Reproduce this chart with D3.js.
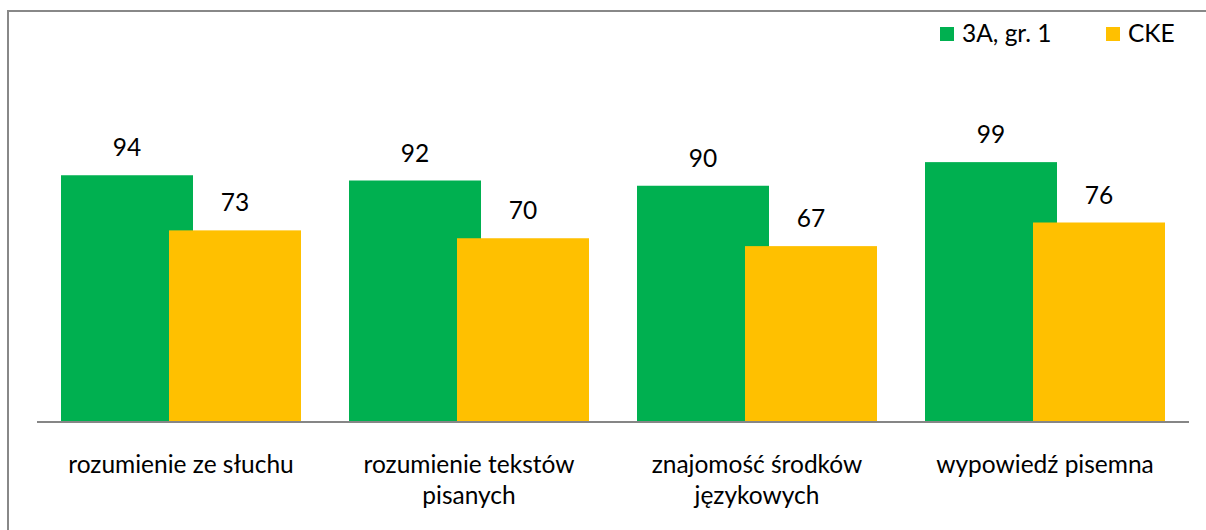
<!DOCTYPE html>
<html>
<head>
<meta charset="utf-8">
<script src="https://cdn.jsdelivr.net/npm/d3@7"></script>
<style>
  html, body { margin: 0; padding: 0; background: #fff; }
  svg text { font-family: Lato, 'Open Sans', sans-serif; fill: #000; }
</style>
</head>
<body>
<div id="chart"></div>
<script>
const categories = ['rozumienie ze słuchu', 'rozumienie tekstów pisanych', 'znajomość środków językowych', 'wypowiedź pisemna'];
const seriesNames = ['3A, gr. 1', 'CKE'];
const seriesColors = ['#00b050', '#ffc000'];
const groupValues = [94, 92, 90, 99];
const ckeValues = [73, 70, 67, 76];

const width = 1206, height = 530;
const margin = { left: 37, right: 17, baseline: 422 };
const fontSize = 24.5;

const svg = d3.select('#chart').append('svg')
  .attr('width', width)
  .attr('height', height);

// frame (only top and left visible in the picture)
svg.append('rect')
  .attr('x', 8).attr('y', 11)
  .attr('width', width + 20).attr('height', height + 20)
  .attr('fill', 'none')
  .attr('stroke', '#888')
  .attr('stroke-width', 2);

const x = d3.scaleBand()
  .domain(categories)
  .range([margin.left, width - margin.right]);

const y = d3.scaleLinear()
  .domain([0, 120])
  .range([margin.baseline, margin.baseline - 315]);

const barW = 132, shift = 54; // bars overlap

const rows = categories.map((c, i) => ({ c, vals: [groupValues[i], ckeValues[i]] }));

const groups = svg.append('g').selectAll('g')
  .data(rows)
  .join('g')
    .attr('transform', d => `translate(${x(d.c) + x.bandwidth() / 2},0)`);

[0, 1].forEach(s => {
  const off = s === 0 ? -shift : shift;
  groups.append('rect')
    .attr('x', off - barW / 2)
    .attr('y', d => y(d.vals[s]))
    .attr('width', barW)
    .attr('height', d => y(0) - y(d.vals[s]))
    .attr('fill', seriesColors[s]);

  groups.append('text')
    .attr('x', off)
    .attr('y', d => y(d.vals[s]) - 19)
    .attr('text-anchor', 'middle')
    .attr('font-size', fontSize)
    .text(d => d.vals[s]);
});

// axis line
svg.append('line')
  .attr('x1', margin.left).attr('x2', width - margin.right)
  .attr('y1', margin.baseline).attr('y2', margin.baseline)
  .attr('stroke', '#868686')
  .attr('stroke-width', 2);

// category labels with wrapping
function wrap(text, maxW) {
  text.each(function() {
    const t = d3.select(this);
    const words = t.text().split(' ');
    t.text(null);
    const lines = [];
    let line = [];
    const probe = t.append('tspan');
    for (const w of words) {
      line.push(w);
      probe.text(line.join(' '));
      if (probe.node().getComputedTextLength() > maxW && line.length > 1) {
        line.pop();
        lines.push(line.join(' '));
        line = [w];
      }
    }
    lines.push(line.join(' '));
    probe.remove();
    lines.forEach((l, i) => {
      t.append('tspan')
        .attr('x', t.attr('x'))
        .attr('dy', i === 0 ? 0 : 31)
        .text(l);
    });
  });
}

svg.append('g').selectAll('text')
  .data(categories)
  .join('text')
    .attr('x', d => x(d) + x.bandwidth() / 2)
    .attr('y', 473)
    .attr('text-anchor', 'middle')
    .attr('font-size', fontSize)
    .text(d => d)
    .call(wrap, 245);

// legend
const legendX = [940, 1106];
const legend = svg.append('g').selectAll('g')
  .data(seriesNames)
  .join('g')
    .attr('transform', (d, i) => `translate(${legendX[i]},27)`);

legend.append('rect')
  .attr('width', 14).attr('height', 14)
  .attr('fill', (d, i) => seriesColors[i]);

legend.append('text')
  .attr('x', 22)
  .attr('y', 15)
  .attr('font-size', fontSize)
  .text(d => d);
</script>
</body>
</html>
